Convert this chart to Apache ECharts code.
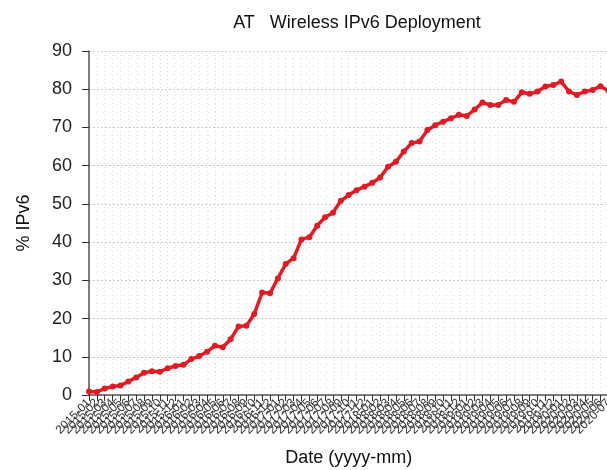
<!DOCTYPE html>
<html>
<head>
<meta charset="utf-8">
<script src="https://cdn.jsdelivr.net/npm/echarts@6/dist/echarts.min.js"></script>
<style>
    html, body { margin: 0; padding: 0; background: #fff; }
    #chart { width: 607px; height: 470px; }
</style>
</head>
<body>
<div id="chart"></div>
<script>
const months = [
    '2015-01', '2015-02', '2015-03', '2015-04', '2015-05', '2015-06', '2015-07', '2015-08', '2015-09', '2015-10', '2015-11', '2015-12',
    '2016-01', '2016-02', '2016-03', '2016-04', '2016-05', '2016-06', '2016-07', '2016-08', '2016-09', '2016-10', '2016-11', '2016-12',
    '2017-01', '2017-02', '2017-03', '2017-04', '2017-05', '2017-06', '2017-07', '2017-08', '2017-09', '2017-10', '2017-11', '2017-12',
    '2018-01', '2018-02', '2018-03', '2018-04', '2018-05', '2018-06', '2018-07', '2018-08', '2018-09', '2018-10', '2018-11', '2018-12',
    '2019-01', '2019-02', '2019-03', '2019-04', '2019-05', '2019-06', '2019-07', '2019-08', '2019-09', '2019-10', '2019-11', '2019-12',
    '2020-01', '2020-02', '2020-03', '2020-04', '2020-05', '2020-06', '2020-07'
];
const ipv6Pct = [
    0.9, 0.8, 1.7, 2.2, 2.5, 3.5, 4.6, 5.8, 6.2, 6.1, 7.0, 7.6,
    7.9, 9.4, 10.2, 11.3, 12.9, 12.5, 14.6, 17.9, 18.1, 21.2, 26.8, 26.6,
    30.5, 34.3, 35.8, 40.7, 41.3, 44.3, 46.5, 47.7, 50.8, 52.3, 53.6, 54.5,
    55.5, 56.9, 59.7, 61.0, 63.7, 65.9, 66.3, 69.3, 70.6, 71.5, 72.4, 73.3,
    73.0, 74.7, 76.5, 75.9, 75.9, 77.2, 76.7, 79.2, 78.8, 79.4, 80.7, 81.1,
    82.0, 79.4, 78.5, 79.4, 79.8, 80.8, 79.6
];
const yTicks = [0, 10, 20, 30, 40, 50, 60, 70, 80, 90];

const chart = echarts.init(document.getElementById('chart'));
const option = {
    animation: false,
    title: {
        text: 'AT\u00a0\u00a0\u00a0Wireless IPv6 Deployment',
        left: 352,
        top: 9,
        textAlign: 'center',
        textStyle: {
            fontFamily: 'Liberation Sans',
            fontSize: 18,
            fontWeight: 'normal',
            color: '#111'
        }
    },
    grid: {
        left: 89,
        top: 51,
        bottom: 75,
        width: 519.4,
        containLabel: false,
        outerBoundsMode: 'none'
    },
    xAxis: {
        type: 'category',
        data: months,
        boundaryGap: false,
        name: 'Date (yyyy-mm)',
        nameLocation: 'middle',
        nameGap: 54,
        nameTextStyle: { fontFamily: 'Liberation Sans', fontSize: 18, color: '#111' },
        axisLine: { lineStyle: { color: '#555', width: 1.5 } },
        axisTick: { alignWithLabel: true, length: 6, interval: 0, lineStyle: { color: '#333' } },
        axisLabel: {
            interval: 0,
            rotate: 45,
            margin: 6,
            fontFamily: 'Liberation Sans',
            fontSize: 12,
            color: '#333'
        },
        splitLine: { show: true, interval: 0, lineStyle: { color: '#ddd', type: [1, 3] } }
    },
    yAxis: {
        type: 'value',
        min: yTicks[0],
        max: yTicks[yTicks.length - 1],
        interval: 10,
        name: '% IPv6',
        nameLocation: 'middle',
        nameGap: 56,
        nameTextStyle: { fontFamily: 'Liberation Sans', fontSize: 18, color: '#111' },
        axisLine: { show: true, lineStyle: { color: '#555', width: 1.5 } },
        axisTick: { show: true, length: 7, lineStyle: { color: '#333' } },
        axisLabel: {
            margin: 17,
            fontFamily: 'Liberation Sans',
            fontSize: 18,
            color: '#222'
        },
        splitLine: { show: true, lineStyle: { color: '#ccc', type: [2, 2] } },
        minorTick: { show: false, splitNumber: 5 },
        minorSplitLine: { show: true, lineStyle: { color: '#e2e2e2', type: [1, 6] } }
    },
    series: [
        {
            type: 'line',
            data: ipv6Pct,
            symbol: 'circle',
            symbolSize: 6,
            itemStyle: { color: '#e01b24' },
            lineStyle: { color: '#e01b24', width: 3.5 }
        }
    ]
};
chart.setOption(option);
</script>
</body>
</html>
